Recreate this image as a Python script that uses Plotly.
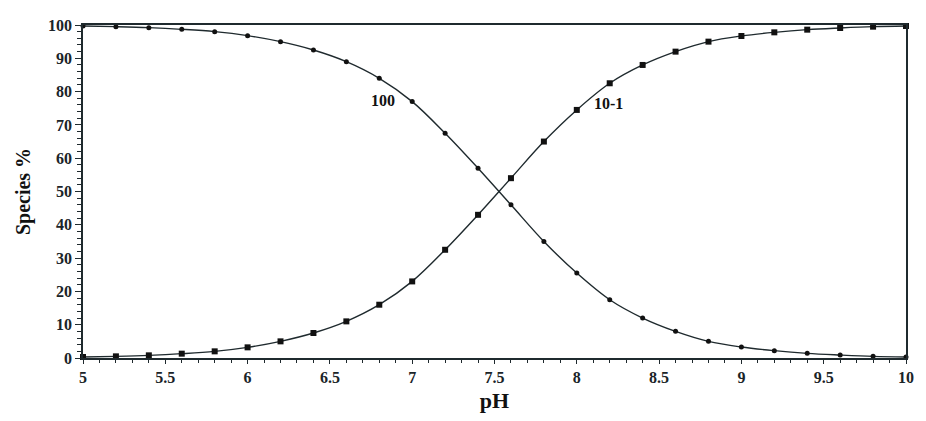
import plotly.graph_objects as go

ph = [5.0, 5.2, 5.4, 5.6, 5.8, 6.0, 6.2, 6.4, 6.6, 6.8, 7.0, 7.2, 7.4, 7.6, 7.8,
      8.0, 8.2, 8.4, 8.6, 8.8, 9.0, 9.2, 9.4, 9.6, 9.8, 10.0]
species_100 = [99.7, 99.5, 99.2, 98.7, 98.0, 96.8, 95.0, 92.5, 89.0, 84.0, 77.0, 67.5,
               57.0, 46.0, 35.0, 25.5, 17.5, 12.0, 8.0, 5.0, 3.3, 2.2, 1.4, 0.9, 0.5, 0.3]
species_10m1 = [0.3, 0.5, 0.8, 1.3, 2.0, 3.2, 5.0, 7.5, 11.0, 16.0, 23.0, 32.5, 43.0,
                54.0, 65.0, 74.5, 82.5, 88.0, 92.0, 95.0, 96.7, 97.8, 98.6, 99.1, 99.5, 99.7]
x_ticks = [5, 5.5, 6, 6.5, 7, 7.5, 8, 8.5, 9, 9.5, 10]
x_tick_text = ["5", "5.5", "6", "6.5", "7", "7.5", "8", "8.5", "9", "9.5", "10"]
y_ticks = [0, 10, 20, 30, 40, 50, 60, 70, 80, 90, 100]

FONT = "Liberation Serif"
LINE = "#1f2a2e"

fig = go.Figure()
fig.add_trace(go.Scatter(
    x=ph, y=species_100, mode="lines+markers", name="100",
    line=dict(color=LINE, width=1.4, shape="spline"),
    marker=dict(symbol="circle", size=5, color="#111111"),
    cliponaxis=False,
))
fig.add_trace(go.Scatter(
    x=ph, y=species_10m1, mode="lines+markers", name="10-1",
    line=dict(color=LINE, width=1.4, shape="spline"),
    marker=dict(symbol="square", size=6, color="#111111"),
    cliponaxis=False,
))

fig.add_annotation(x=6.82, y=77.3, text="<b>100</b>", showarrow=False,
                   font=dict(family=FONT, size=16, color="#111111"))
fig.add_annotation(x=8.19, y=76.5, text="<b>10-1</b>", showarrow=False,
                   font=dict(family=FONT, size=16, color="#111111"))

fig.update_layout(
    width=926, height=421,
    margin=dict(l=83, r=12, t=25, b=62),
    paper_bgcolor="white", plot_bgcolor="white",
    showlegend=False,
    font=dict(family=FONT, color="#111111"),
)
fig.update_xaxes(
    range=[5, 10], tickvals=x_ticks, ticktext=x_tick_text,
    tickfont=dict(family=FONT, size=16, color="#1a2428", weight="bold"),
    showgrid=False, zeroline=False,
    showline=True, linecolor=LINE, linewidth=1.5, mirror=True,
    ticks="outside", ticklen=4, tickcolor=LINE, tickwidth=1.2,
    minor=dict(dtick=0.1, ticks="outside", ticklen=3, tickcolor=LINE, tickwidth=1),
    title=dict(text="<b>pH</b>", font=dict(family=FONT, size=22, color="#111111"), standoff=8),
)
fig.update_yaxes(
    range=[0, 100], tickvals=y_ticks,
    tickfont=dict(family=FONT, size=16, color="#1a2428", weight="bold"),
    showgrid=False, zeroline=False,
    showline=True, linecolor=LINE, linewidth=1.5, mirror=True,
    ticks="outside", ticklen=6, tickcolor=LINE, tickwidth=1.2,
    minor=dict(dtick=2, ticks="outside", ticklen=4, tickcolor=LINE, tickwidth=1),
    title=dict(text="<b>Species %</b>", font=dict(family=FONT, size=20, color="#111111"), standoff=12),
)

fig.write_html("out.html")
